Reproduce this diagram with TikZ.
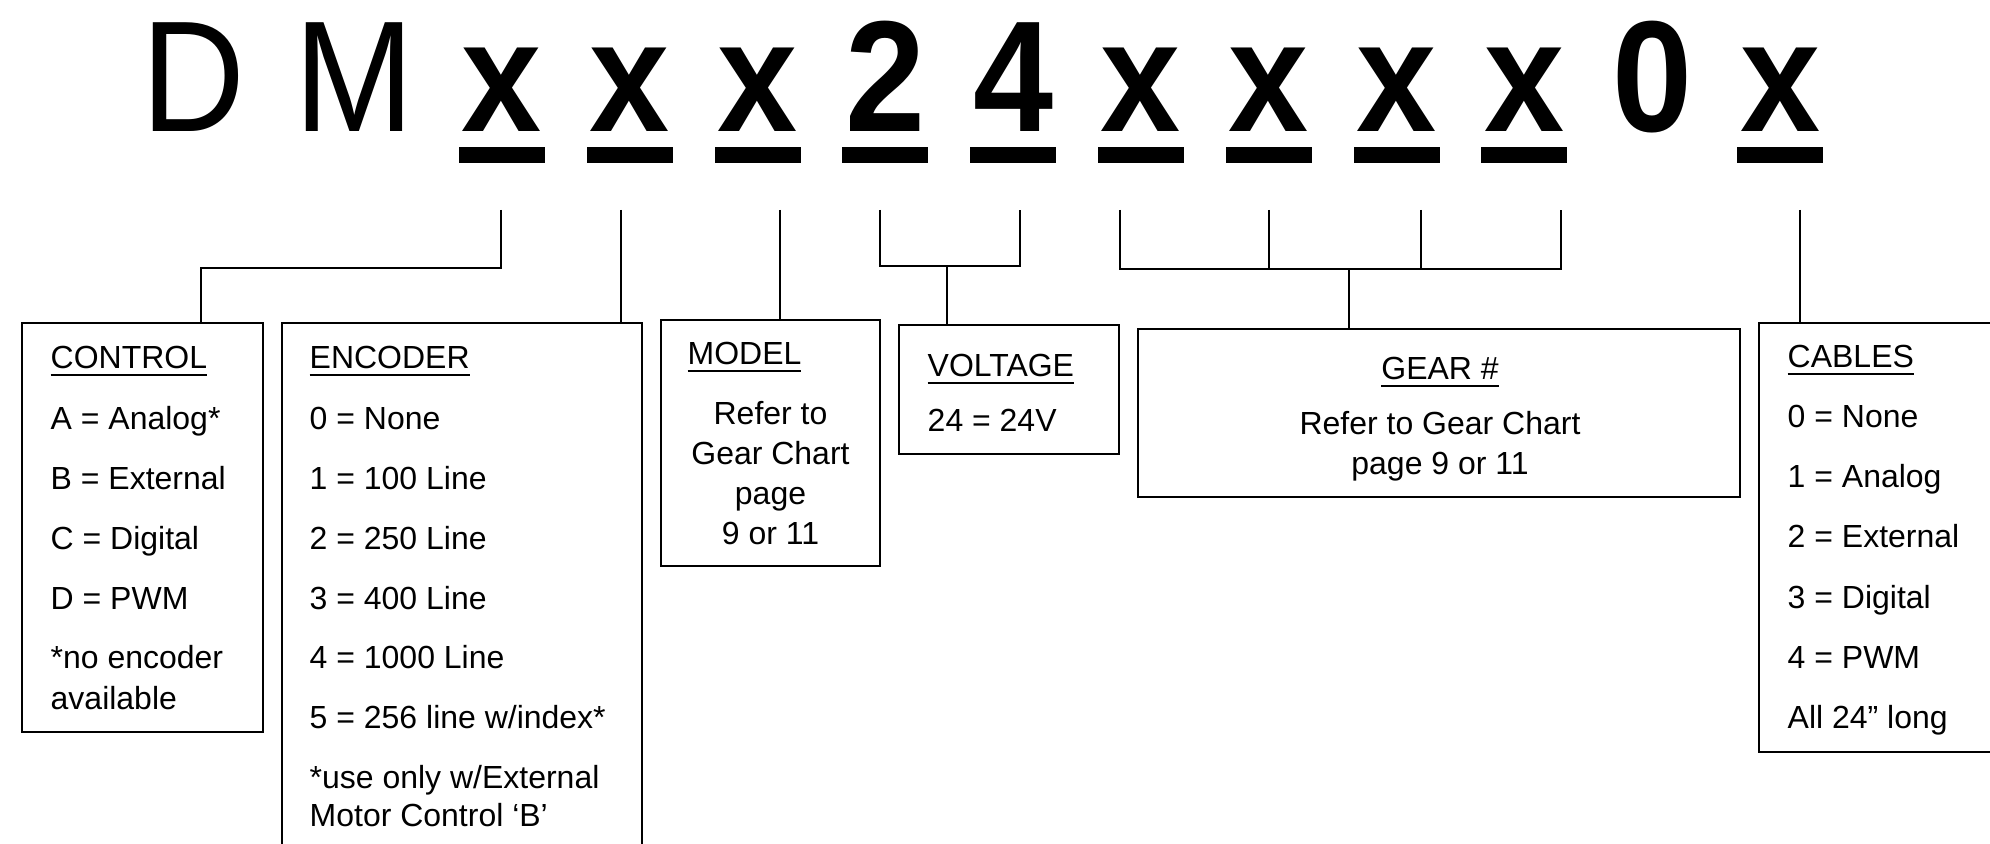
\documentclass[tikz,border=0pt]{standalone}
\usepackage{fontspec}
\setmainfont{Liberation Sans}
\newfontfamily\titlefont[FakeStretch=0.91]{Liberation Sans}
\newcommand{\ulhead}[1]{\setbox0\hbox{#1}\rlap{\rule[-2.1pt]{\wd0}{0.7pt}}\box0}
\tikzset{
	codebox/.style={draw,thick,rectangle,inner sep=0pt},
	entry/.style={anchor=base west,inner sep=0pt,font=\fontsize{9.1}{11}\selectfont},
	midentry/.style={anchor=base,inner sep=0pt,font=\fontsize{9.1}{11}\selectfont},
	bigchar/.style={anchor=base,inner sep=0pt,font=\titlefont\fontsize{45}{50}\selectfont\bfseries},
	link/.style={thick}
}
\begin{document}
\begin{tikzpicture}
	\useasboundingbox (0,0) rectangle (19.9,8.43);
	% part number
	\node[bigchar,font=\titlefont\fontsize{45}{50}\selectfont] (d) at (1.93,7.11) {D};
	\node[bigchar,font=\titlefont\fontsize{45}{50}\selectfont] (m) at (3.54,7.11) {M};
	\foreach \c [count=\i] in {x,x,x,2,4,x,x,x,x,0,x}
		\node[bigchar] (ch\i) at ({5.02+1.278*(\i-1)},7.11) {\c};
	\foreach \i in {1,...,9,11}
		\fill ({5.02+1.278*(\i-1)-0.43},6.80) rectangle ++(0.86,0.16);
	% boxes
	\node[codebox,minimum width=2.41cm,minimum height=4.09cm] (control) at (1.425,3.155) {};
	\node[codebox,minimum width=3.60cm,minimum height=5.30cm] (encoder) at (4.62,2.55) {};
	\node[codebox,minimum width=2.19cm,minimum height=2.46cm] (model) at (7.705,4.00) {};
	\node[codebox,minimum width=2.20cm,minimum height=1.29cm] (voltage) at (10.09,4.535) {};
	\node[codebox,minimum width=6.02cm,minimum height=1.68cm] (gear) at (14.39,4.30) {};
	\node[codebox,minimum width=2.61cm,minimum height=4.29cm] (cables) at (18.895,3.055) {};
	% connectors
	\coordinate (t1) at (5.01,6.33);
	\coordinate (t2) at (6.21,6.33);
	\coordinate (t3) at (7.80,6.33);
	\coordinate (t4) at (8.80,6.33);
	\coordinate (t5) at (10.20,6.33);
	\coordinate (t6) at (11.20,6.33);
	\coordinate (t7) at (12.69,6.33);
	\coordinate (t8) at (14.21,6.33);
	\coordinate (t9) at (15.61,6.33);
	\coordinate (t10) at (18.00,6.33);
	\coordinate (cbend) at (2.01,5.75);
	\coordinate (vbar) at (9.47,5.77);
	\coordinate (gbar) at (13.49,5.74);
	\draw[link] (t1) |- (cbend) -- (cbend |- control.north);
	\draw[link] (t2) -- (t2 |- encoder.north);
	\draw[link] (t3) -- (t3 |- model.north);
	\draw[link] (t4) -- (t4 |- vbar) -- (t5 |- vbar) -- (t5);
	\draw[link] (vbar) -- (vbar |- voltage.north);
	\draw[link] (t6) -- (t6 |- gbar) -- (t9 |- gbar) -- (t9);
	\draw[link] (t7) -- (t7 |- gbar);
	\draw[link] (t8) -- (t8 |- gbar);
	\draw[link] (gbar) -- (gbar |- gear.north);
	\draw[link] (t10) -- (t10 |- cables.north);
	% control
	\node[entry] (ctlhead) at (0.50,4.74) {\ulhead{CONTROL}};
	\foreach \t [count=\i] in {A = Analog*,B = External,C = Digital,D = PWM,*no encoder}
		\node[entry] (ctl\i) at (0.50,{4.13-0.597*(\i-1)}) {\t};
	\node[entry] (ctl6) at (0.50,1.34) {available};
	% encoder
	\node[entry] (enchead) at (3.09,4.74) {\ulhead{ENCODER}};
	\foreach \t [count=\i] in {0 = None,1 = 100 Line,2 = 250 Line,3 = 400 Line,4 = 1000 Line,5 = 256 line w/index*,*use only w/External}
		\node[entry] (enc\i) at (3.09,{4.13-0.597*(\i-1)}) {\t};
	\node[entry] (enc8) at (3.09,0.17) {Motor Control ‘B’};
	% model
	\node[entry] (modhead) at (6.87,4.78) {\ulhead{MODEL}};
	\foreach \t [count=\i] in {Refer to,Gear Chart,page,9 or 11}
		\node[midentry] (mod\i) at (7.705,{4.18-0.40*(\i-1)}) {\t};
	% voltage
	\node[entry] (volthead) at (9.27,4.66) {\ulhead{VOLTAGE}};
	\node[entry] (volt1) at (9.27,4.11) {24 = 24V};
	% gear
	\node[midentry] (gearhead) at (14.40,4.63) {\ulhead{GEAR \#}};
	\node[midentry] (gear1) at (14.40,4.08) {Refer to Gear Chart};
	\node[midentry] (gear2) at (14.40,3.68) {page 9 or 11};
	% cables
	\node[entry] (cabhead) at (17.87,4.75) {\ulhead{CABLES}};
	\foreach \t [count=\i] in {0 = None,1 = Analog,2 = External,3 = Digital,4 = PWM,All 24” long}
		\node[entry] (cab\i) at (17.87,{4.15-0.60*(\i-1)}) {\t};
\end{tikzpicture}
\end{document}
